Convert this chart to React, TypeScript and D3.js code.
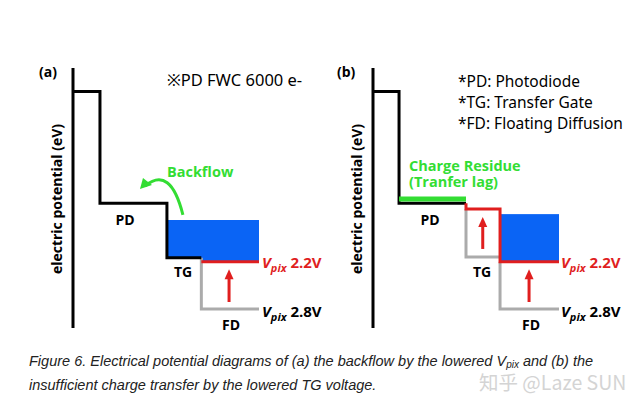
import * as d3 from "d3";

type Pt = [number, number];

// region edges along the device (axis, barrier end, PD end, TG end, FD end)
const edges = [0, 1.45, 5.05, 6.9, 10];
const edgesB = [0, 1.4, 5.0, 6.83, 10];
const barrierLevel = 9.1;
// potential levels, arbitrary units (PD, TG, FD at Vpix 2.2V)
const levelsA = [4.8, 2.7, 2.55];
const levelsB = [4.8, 4.58, 2.55];
const tgOldLevelB = 2.73;
const fdOldLevel = 0.73; // Vpix 2.8V
const chargeTop = [4.15, 4.38];
const residueLevel = 4.96;
// arrows: [x, from, to]
const arrowsA: [number, number, number][] = [[8.39, 1.0, 2.26]];
const arrowsB: [number, number, number][] = [
  [5.9, 3.04, 4.27],
  [8.39, 1.0, 2.26],
];
const backflow: Pt[] = [
  [5.91, 4.35],
  [5.24, 6.27],
  [3.87, 5.46],
];
const legendLines = ["*PD: Photodiode", "*TG: Transfer Gate", "*FD: Floating Diffusion"];
const residueLines = ["Charge Residue", "(Tranfer lag)"];
const captionLines = [
  "Figure 6. Electrical potential diagrams of (a) the backflow by the lowered V",
  "insufficient charge transfer by the lowered TG voltage.",
];

const BLACK = "#000";
const RED = "#e01e1e";
const GRAY = "#ababab";
const GREEN = "#33dd33";
const BLUE = "#0a64f5";
const BOLD = "'Open Sans', Lato, sans-serif";
const REG = "'Noto Sans', 'Open Sans', sans-serif";

const x = d3.scaleLinear().domain([0, 10]).range([0, 186]);
const y = d3.scaleLinear().domain([0, 10]).range([328, 68]);
const line = d3
  .line<Pt>()
  .x((d) => x(d[0]))
  .y((d) => y(d[1]));

function Arrow({ a }: { a: [number, number, number] }) {
  const [px, from, to] = a;
  const tip = y(to);
  return (
    <g>
      <line x1={x(px)} x2={x(px)} y1={y(from)} y2={tip + 8} stroke={RED} strokeWidth={3} />
      <path d={`M${x(px)},${tip} L${x(px) - 4.5},${tip + 10} L${x(px) + 4.5},${tip + 10} Z`} fill={RED} />
    </g>
  );
}

function Vpix({ px, py, value, color }: { px: number; py: number; value: string; color: string }) {
  return (
    <text x={px} y={py} fill={color} fontFamily={BOLD} fontWeight={700} fontSize={15}>
      <tspan fontStyle="italic">V</tspan>
      <tspan fontStyle="italic" fontSize={11} dy={4}>pix</tspan>
      <tspan dy={-4}> {value}</tspan>
    </text>
  );
}

function Label({ px, py, text }: { px: number; py: number; text: string }) {
  return (
    <text x={px} y={py} textAnchor="middle" fontFamily={BOLD} fontWeight={700} fontSize={14}>
      {text}
    </text>
  );
}

function AxisTitle() {
  return (
    <g>
      <line x1={0} x2={0} y1={y(10)} y2={y(0)} stroke={BLACK} strokeWidth={3} />
      <text
        transform={`translate(-11,${(y(10) + y(0)) / 2 + 1}) rotate(-90)`}
        textAnchor="middle"
        fontFamily={BOLD}
        fontWeight={700}
        fontSize={14}
      >
        electric potential (eV)
      </text>
    </g>
  );
}

function PanelA() {
  const [e0, e1, e2, e3, e4] = edges;
  const [pd, tg, fd] = levelsA;
  const black: Pt[] = [[e0, barrierLevel], [e1, barrierLevel], [e1, pd], [e2, pd], [e2, tg], [e3, tg]];
  const gray: Pt[] = [[e3, tg], [e3, fdOldLevel], [e4, fdOldLevel]];
  const red: Pt[] = [[e3, fd], [e4, fd]];
  const charge: Pt[] = [[e2, chargeTop[0]], [e4, chargeTop[0]], [e4, fd], [e3, fd], [e3, tg], [e2, tg]];
  const [p0, p1, p2] = backflow;
  return (
    <g transform="translate(73,0)">
      <text x={-34} y={77} fontFamily={BOLD} fontWeight={700} fontSize={14}>(a)</text>
      <text x={x(5.05)} y={86} fontFamily={REG} fontSize={16.5}>※PD FWC 6000 e-</text>
      <path d={line(charge) + "Z"} fill={BLUE} />
      <path d={line(gray) ?? ""} fill="none" stroke={GRAY} strokeWidth={3} />
      <path d={line(black) ?? ""} fill="none" stroke={BLACK} strokeWidth={3} />
      <path d={line(red) ?? ""} fill="none" stroke={RED} strokeWidth={3} />
      <AxisTitle />
      {arrowsA.map((a, i) => <Arrow key={i} a={a} />)}
      <path
        d={`M${x(p0[0])},${y(p0[1])} Q${x(p1[0])},${y(p1[1])} ${x(p2[0])},${y(p2[1])}`}
        fill="none"
        stroke={GREEN}
        strokeWidth={3}
      />
      <path d={`M${x(p2[0]) - 5},${y(p2[1]) + 3} l3,-11 l9,7 Z`} fill={GREEN} />
      <text x={x(5.05)} y={177} fill={GREEN} fontFamily={BOLD} fontWeight={700} fontSize={14.5}>Backflow</text>
      <Label px={52} py={225} text="PD" />
      <Label px={110} py={277} text="TG" />
      <Label px={158} py={330} text="FD" />
      <Vpix px={x(e4) + 3} py={y(fd) + 6} value="2.2V" color={RED} />
      <Vpix px={x(e4) + 3} py={y(fdOldLevel) + 8} value="2.8V" color={BLACK} />
    </g>
  );
}

function PanelB() {
  const [e0, e1, e2, e3, e4] = edgesB;
  const [pd, tg, fd] = levelsB;
  const black: Pt[] = [[e0, barrierLevel], [e1, barrierLevel], [e1, pd], [e2, pd]];
  const grayTg: Pt[] = [[e2, tg], [e2, tgOldLevelB], [e3, tgOldLevelB]];
  const grayFd: Pt[] = [[e3, fd], [e3, fdOldLevel], [e4, fdOldLevel]];
  const red: Pt[] = [[e2, pd], [e2, tg], [e3, tg], [e3, fd], [e4, fd]];
  const residue: Pt[] = [[e1, residueLevel], [e2, residueLevel]];
  return (
    <g transform="translate(373,0)">
      <text x={-36} y={77} fontFamily={BOLD} fontWeight={700} fontSize={14}>(b)</text>
      {legendLines.map((t, i) => (
        <text key={t} x={85} y={87 + i * 21} fontFamily={REG} fontSize={15.5}>{t}</text>
      ))}
      <rect x={x(e3)} y={y(chargeTop[1])} width={x(e4) - x(e3)} height={y(fd) - y(chargeTop[1])} fill={BLUE} />
      <path d={line(grayTg) ?? ""} fill="none" stroke={GRAY} strokeWidth={3} />
      <path d={line(grayFd) ?? ""} fill="none" stroke={GRAY} strokeWidth={3} />
      <path d={line(black) ?? ""} fill="none" stroke={BLACK} strokeWidth={3} />
      <path d={line(red) ?? ""} fill="none" stroke={RED} strokeWidth={3} />
      <path d={line(residue) ?? ""} fill="none" stroke={GREEN} strokeWidth={5} />
      <AxisTitle />
      {arrowsB.map((a, i) => <Arrow key={i} a={a} />)}
      {residueLines.map((t, i) => (
        <text key={t} x={36} y={171 + i * 16} fill={GREEN} fontFamily={BOLD} fontWeight={700} fontSize={14.5}>
          {t}
        </text>
      ))}
      <Label px={57} py={225} text="PD" />
      <Label px={109} py={277} text="TG" />
      <Label px={158} py={330} text="FD" />
      <Vpix px={x(e4) + 2} py={y(fd) + 6} value="2.2V" color={RED} />
      <Vpix px={x(e4) + 2} py={y(fdOldLevel) + 8} value="2.8V" color={BLACK} />
    </g>
  );
}

export default function App() {
  return (
    <svg
      width={644}
      height={410}
      viewBox="0 0 644 410"
      style={{ position: "absolute", left: 0, top: 0, background: "#fff" }}
    >
      <rect width={644} height={410} fill="#fff" />
      <PanelA />
      <PanelB />
      <g fontFamily="'Liberation Sans', Arial, sans-serif" fontStyle="italic" fontSize={14.5} fill="#222">
        <text x={29} y={366}>
          {captionLines[0]}
          <tspan fontSize={10} dy={2}>pix</tspan>
          <tspan dy={-2}> and (b) the</tspan>
        </text>
        <text x={29} y={390}>{captionLines[1]}</text>
      </g>
      <text x={479} y={390} fontFamily="'Noto Sans CJK SC', sans-serif" fontSize={19.5} fill="#d4d4d4">
        知乎 @Laze SUN
      </text>
    </svg>
  );
}
